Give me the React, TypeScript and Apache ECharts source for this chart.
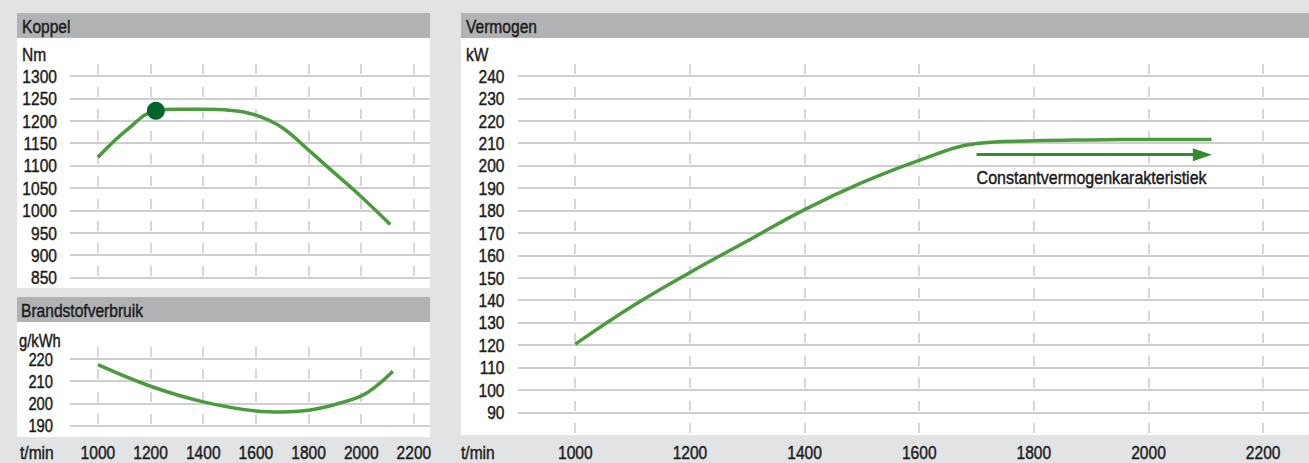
import React, { useEffect, useRef } from "react";
import * as echarts from "echarts";

// ---------- data ----------
const rpmTicks = [1000, 1200, 1400, 1600, 1800, 2000, 2200];

const koppelTicks = [850, 900, 950, 1000, 1050, 1100, 1150, 1200, 1250, 1300];
const koppelRpm = [1000, 1110, 1220, 1300, 1400, 1500, 1600, 1700, 1800, 1900, 2000, 2110];
const koppelNm = [1119, 1180, 1223, 1226, 1226, 1224, 1213, 1185, 1135, 1083, 1031, 969];
const koppelMax = [1220, 1223];

const brandTicks = [190, 200, 210, 220];
const brandRpm = [1000, 1200, 1400, 1600, 1700, 1800, 1900, 2000, 2060, 2120];
const brandGkwh = [217.5, 207.8, 200.8, 196.7, 196.2, 197.0, 199.6, 203.5, 208.2, 214.6];

const vermTicks = [90, 100, 110, 120, 130, 140, 150, 160, 170, 180, 190, 200, 210, 220, 230, 240];
const vermLevels = [80, ...vermTicks];
const vermRpm = [1000, 1100, 1200, 1300, 1400, 1500, 1600, 1700, 1800, 1900, 2000, 2110];
const vermKw = [120.5, 137.5, 152.5, 166.5, 180.5, 192.5, 202.5, 210.0, 211.2, 211.6, 211.8, 211.8];

const arrowStart = [1700, 205];
const arrowEnd = [2094, 205];
const arrowLabel = "Constantvermogenkarakteristiek";

// ---------- style ----------
const FONT = "'Liberation Sans', Arial, sans-serif";
const NARROW = 0.82;
const TXT = "#1b1b1b";
const BG = "#e2e3e5";
const HEAD = "#b1b2b4";
const GRID = "#cfcfcf";
const SEG = "#d6d6d6";
const CURVE = "#4a9b3d";
const DARK = "#00652b";
const ARROW = "#35892f";

const textStyle = (text: string, size: number, align: string) => ({
  text,
  fontSize: size,
  fontFamily: FONT,
  fill: TXT,
  stroke: TXT,
  lineWidth: 0.45,
  align,
  verticalAlign: "middle",
});

function gridSeries(idx: number, levels: number[], lineLevels: number[], xt: number[]) {
  return {
    type: "custom",
    xAxisIndex: idx,
    yAxisIndex: idx,
    silent: true,
    z: 1,
    clip: false,
    data: levels.map((l) => [xt[0], l]),
    renderItem: (params: any, api: any) => {
      const level = api.value(1);
      const cs = params.coordSys;
      const y = Math.round(api.coord([xt[0], level])[1]);
      const children: any[] = [];
      if (lineLevels.indexOf(level) >= 0) {
        children.push({
          type: "line",
          shape: { x1: cs.x, y1: y, x2: cs.x + cs.width, y2: y },
          style: { stroke: GRID, lineWidth: 2 },
        });
      }
      xt.forEach((t) => {
        const x = Math.round(api.coord([t, level])[0]);
        children.push({
          type: "line",
          shape: { x1: x, y1: y - 2, x2: x, y2: y - 12 },
          style: { stroke: SEG, lineWidth: 2 },
        });
      });
      return { type: "group", children };
    },
  };
}

// tick labels placed through the axis scales (narrow text)
function yLabelSeries(idx: number, values: number[], xAt: number, gap: number, size: number) {
  return {
    type: "custom",
    xAxisIndex: idx,
    yAxisIndex: idx,
    silent: true,
    clip: false,
    z: 5,
    data: values.map((v) => [xAt, v]),
    renderItem: (params: any, api: any) => {
      const cs = params.coordSys;
      const y = api.coord([api.value(0), api.value(1)])[1];
      return {
        type: "text",
        x: cs.x - gap,
        y,
        scaleX: NARROW,
        style: textStyle(String(api.value(1)), size, "right"),
      };
    },
  };
}

function xLabelSeries(idx: number, values: number[], yAt: number, below: number) {
  return {
    type: "custom",
    xAxisIndex: idx,
    yAxisIndex: idx,
    silent: true,
    clip: false,
    z: 5,
    data: values.map((v) => [v, yAt]),
    renderItem: (params: any, api: any) => {
      const cs = params.coordSys;
      const x = api.coord([api.value(0), api.value(1)])[0];
      return {
        type: "text",
        x,
        y: cs.y + cs.height + below,
        scaleX: NARROW,
        style: textStyle(String(api.value(0)), 19, "center"),
      };
    },
  };
}

function txt(text: string, x: number, y: number, size = 19) {
  return {
    type: "text",
    x,
    y,
    scaleX: NARROW,
    silent: true,
    style: textStyle(text, size, "left"),
  };
}

export default function App() {
  const ref = useRef<HTMLDivElement>(null);
  useEffect(() => {
    if (!ref.current) return;
    const chart = echarts.init(ref.current, null, { renderer: "svg" });
    chart.setOption({
      animation: false,
      backgroundColor: BG,
      graphic: [
        { type: "rect", shape: { x: 17, y: 13, width: 413, height: 25 }, style: { fill: HEAD }, silent: true, z: -10 },
        { type: "rect", shape: { x: 17, y: 38, width: 413, height: 250 }, style: { fill: "#ffffff" }, silent: true, z: -10 },
        { type: "rect", shape: { x: 17, y: 297, width: 413, height: 25 }, style: { fill: HEAD }, silent: true, z: -10 },
        { type: "rect", shape: { x: 17, y: 322, width: 413, height: 115 }, style: { fill: "#ffffff" }, silent: true, z: -10 },
        { type: "rect", shape: { x: 461, y: 13, width: 848, height: 25 }, style: { fill: HEAD }, silent: true, z: -10 },
        { type: "rect", shape: { x: 461, y: 38, width: 848, height: 397 }, style: { fill: "#ffffff" }, silent: true, z: -10 },
        txt("Koppel", 22, 26),
        txt("Nm", 22, 54),
        txt("Brandstofverbruik", 21, 310),
        txt("g/kWh", 19, 340, 18),
        txt("Vermogen", 466, 26),
        txt("kW", 466, 54),
        txt("t/min", 20, 452),
        txt("t/min", 461, 452),
      ],
      grid: [
        { left: 70, top: 65, width: 360, height: 224 },
        { left: 70, top: 348, width: 360, height: 89 },
        { left: 518, top: 65, width: 791, height: 370 },
      ],
      xAxis: [
        { gridIndex: 0, type: "value", min: 894, max: 2261, show: false },
        { gridIndex: 1, type: "value", min: 894, max: 2261, show: false },
        { gridIndex: 2, type: "value", min: 900, max: 2280, show: false },
      ],
      yAxis: [
        { gridIndex: 0, type: "value", min: 825, max: 1325, show: false },
        { gridIndex: 1, type: "value", min: 185, max: 225, show: false },
        { gridIndex: 2, type: "value", min: 80, max: 245, show: false },
      ],
      series: [
        gridSeries(0, koppelTicks, koppelTicks, rpmTicks),
        gridSeries(1, brandTicks, brandTicks, rpmTicks),
        gridSeries(2, vermLevels, vermTicks, rpmTicks),
        yLabelSeries(0, koppelTicks, 1000, 13, 19),
        yLabelSeries(1, brandTicks, 1000, 17, 18),
        yLabelSeries(2, vermTicks, 1000, 13.5, 19),
        xLabelSeries(1, rpmTicks, 190, 15.5),
        xLabelSeries(2, rpmTicks, 90, 17.5),
        {
          type: "line", xAxisIndex: 0, yAxisIndex: 0, smooth: 0.4, symbol: "none", z: 3, silent: true,
          lineStyle: { color: CURVE, width: 3.5 },
          data: koppelRpm.map((r, i) => [r, koppelNm[i]]),
        },
        {
          type: "scatter", xAxisIndex: 0, yAxisIndex: 0, z: 4, silent: true, symbolSize: 18,
          itemStyle: { color: DARK, opacity: 1 },
          data: [koppelMax],
        },
        {
          type: "line", xAxisIndex: 1, yAxisIndex: 1, smooth: 0.4, symbol: "none", z: 3, silent: true,
          lineStyle: { color: CURVE, width: 3.5 },
          data: brandRpm.map((r, i) => [r, brandGkwh[i]]),
        },
        {
          type: "line", xAxisIndex: 2, yAxisIndex: 2, smooth: 0.4, symbol: "none", z: 3, silent: true,
          lineStyle: { color: CURVE, width: 3.5 },
          data: vermRpm.map((r, i) => [r, vermKw[i]]),
          markLine: {
            silent: true,
            symbol: ["none", "triangle"],
            symbolSize: [13, 19],
            lineStyle: { color: ARROW, width: 3, type: "solid", opacity: 1 },
            label: { show: false },
            data: [[{ coord: arrowStart }, { coord: arrowEnd }]],
          },
        },
        {
          type: "custom", xAxisIndex: 2, yAxisIndex: 2, silent: true, clip: false, z: 5,
          data: [arrowStart],
          renderItem: (params: any, api: any) => {
            const p = api.coord([api.value(0), api.value(1)]);
            return {
              type: "text",
              x: p[0],
              y: p[1] + 23,
              scaleX: 0.845,
              style: textStyle(arrowLabel, 19, "left"),
            };
          },
        },
      ],
    });
    return () => chart.dispose();
  }, []);
  return (
    <div
      ref={ref}
      style={{ position: "fixed", left: 0, top: 0, width: 1309, height: 463, background: BG }}
    />
  );
}
